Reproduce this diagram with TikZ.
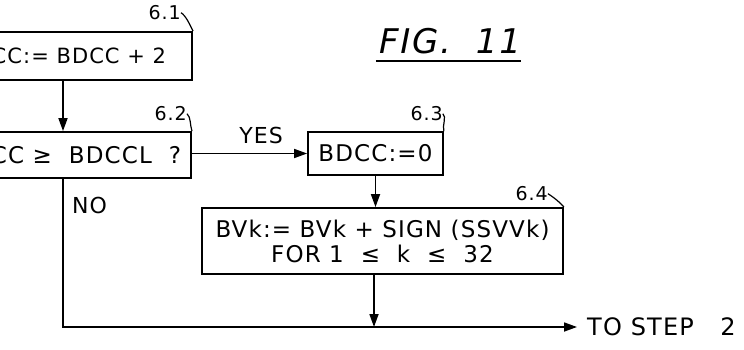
\documentclass[tikz,border=0pt]{standalone}
\usepackage{fontspec}
\setmainfont{DejaVu Sans}[LetterSpace=5]
\usetikzlibrary{arrows.meta}

\begin{document}
\begin{tikzpicture}[x=1pt, y=-1pt,
    box/.style={draw, line width=1.8pt, font=\fontsize{23}{25}\selectfont},
    lbl/.style={font=\fontsize{19}{21}\selectfont, inner sep=0pt, anchor=south east},
    txt/.style={font=\fontsize{22}{24}\selectfont, inner sep=0pt},
    flow/.style={line width=1.7pt, -{Triangle[length=13pt, width=9pt]}},
    hook/.style={line width=1.2pt}]
  \clip (0,0) rectangle (744,350);

  % Steps 6.1 and 6.2 (cut off at the left edge)
  \coordinate (trunk) at (63,0);
  \node[box, font=\fontsize{21}{23}\selectfont, anchor=east, minimum height=48pt, inner xsep=26pt] (b61) at (193,56) {BDCC:= BDCC + 2};
  \node[box, anchor=east, minimum height=46pt, inner xsep=10pt] (b62) at (192,155) {BDCC\ ≥\ \ BDCCL\ \ ?};

  % Steps 6.3 and 6.4
  \node[box, minimum width=135pt, minimum height=43pt] (b63) at (375.5,153.5) {BDCC:=0};
  \node[box, minimum width=361pt, minimum height=66pt, align=center] (b64) at (382.5,241)
    {BVk:= BVk + SIGN (SSVVk)\\FOR 1\ \ ≤\ \ k\ \ ≤\ \ 32};

  % Step numbers
  \node[lbl] (l61) at ([xshift=-12pt, yshift=11pt]b61.north east) {6.1};
  \node[lbl] (l62) at ([xshift=-5pt, yshift=10pt]b62.north east) {6.2};
  \node[lbl] (l63) at ([xshift=-1pt, yshift=10pt]b63.north east) {6.3};
  \node[lbl] (l64) at ([xshift=-16pt, yshift=6pt]b64.north east) {6.4};
  \draw[hook] (l61.east) .. controls +(5pt,-3pt) and +(-3pt,6pt) .. (b61.north east);
  \draw[hook] (l62.east) .. controls +(4pt,-3pt) and +(-2pt,5pt) .. (b62.north east);
  \draw[hook] (l63.east) .. controls +(4pt,-3pt) and +(-2pt,5pt) .. (b63.north east);
  \draw[hook] (l64.east) .. controls +(5pt,-3pt) and +(-3pt,4pt) .. (b64.north east);

  % Exit
  \coordinate (join) at (374,327);
  \node[txt, font=\fontsize{24}{26}\selectfont, anchor=west, inner xsep=10pt] (out) at (577,327) {TO STEP\ \ \ 2};
  \node[txt, anchor=west] (no) at (72,205) {NO};

  % Flow lines
  \draw[flow] (b61.south -| trunk) -- (b62.north -| trunk);
  \draw[flow] (b62.east |- b63.west) -- node[txt, above=9pt, pos=0.6] (yes) {YES} (b63.west);
  \draw[flow] (b63.south) -- (b63.south |- b64.north);
  \draw[flow] (b64.south -| join) -- (join);
  \draw[flow] (b62.south -| trunk) |- (out.west);

  % Title
  \node[font=\fontsize{34}{36}\selectfont\itshape, inner sep=0pt] (fig) at (450,41) {FIG.\ \ 11};
  \draw[line width=2.5pt] ([xshift=-3pt, yshift=-7pt]fig.south west) -- ([yshift=-7pt]fig.south east);
\end{tikzpicture}
\end{document}
